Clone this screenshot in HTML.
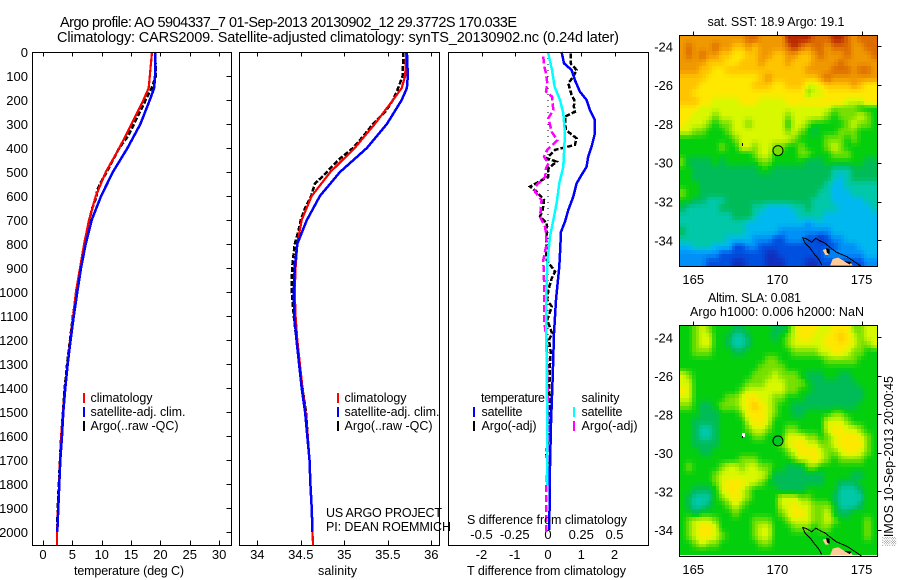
<!DOCTYPE html>
<html lang="en">
<head>
<meta charset="utf-8">
<title>Argo profile chart</title>
<style>
html,body{margin:0;padding:0;background:#fff;width:900px;height:580px;overflow:hidden}
svg{display:block}
text{font-family:"Liberation Sans",Arial,sans-serif;font-size:12.5px;fill:#000}
.tk{font-size:13px}
</style>
</head>
<body>
<svg id="chart" xmlns="http://www.w3.org/2000/svg" width="900" height="580" viewBox="0 0 900 580">
<rect x="0" y="0" width="900" height="580" fill="#fff"/>
<text x="60" y="27" style="font-size:14.5px" textLength="457" lengthAdjust="spacing">Argo profile: AO 5904337_7 01-Sep-2013 20130902_12 29.3772S 170.033E</text>
<text x="57" y="42" style="font-size:14.5px" textLength="562" lengthAdjust="spacing">Climatology: CARS2009. Satellite-adjusted climatology: synTS_20130902.nc (0.24d later)</text>
<g id="maps"></g>
<g id="profiles"></g>

<text x="74" y="575" textLength="110" lengthAdjust="spacing">temperature (deg C)</text>
<text x="318" y="575" textLength="39" lengthAdjust="spacing">salinity</text>
<text x="467" y="575" textLength="159" lengthAdjust="spacing">T difference from climatology</text>
<text x="467" y="524" textLength="160" lengthAdjust="spacing">S difference from climatology</text>

<g>
<rect x="83" y="393" width="2" height="10" fill="#f00"/>
<rect x="83" y="407" width="2" height="10" fill="#00f"/>
<rect x="83" y="421" width="2" height="10" fill="#000"/>
<text x="90.5" y="402" textLength="62" lengthAdjust="spacing">climatology</text>
<text x="90.5" y="416" textLength="95" lengthAdjust="spacing">satellite-adj. clim.</text>
<text x="90.5" y="430" textLength="88" lengthAdjust="spacing">Argo(..raw -QC)</text>
</g>
<g>
<rect x="337" y="393" width="2" height="10" fill="#f00"/>
<rect x="337" y="407" width="2" height="10" fill="#00f"/>
<rect x="337" y="421" width="2" height="10" fill="#000"/>
<text x="344.5" y="402" textLength="62" lengthAdjust="spacing">climatology</text>
<text x="344.5" y="416" textLength="95" lengthAdjust="spacing">satellite-adj. clim.</text>
<text x="344.5" y="430" textLength="88" lengthAdjust="spacing">Argo(..raw -QC)</text>
</g>
<text x="326" y="517" textLength="116" lengthAdjust="spacing">US ARGO PROJECT</text>
<text x="326" y="531" textLength="125" lengthAdjust="spacing">PI: DEAN ROEMMICH</text>
<g>
<text x="481" y="402" textLength="64" lengthAdjust="spacing">temperature</text>
<rect x="473" y="407" width="2" height="10" fill="#00f"/>
<rect x="473" y="421" width="2" height="10" fill="#000"/>
<text x="481.5" y="416" textLength="41" lengthAdjust="spacing">satellite</text>
<text x="481.5" y="430" textLength="55" lengthAdjust="spacing">Argo(-adj)</text>
<text x="581.5" y="402" textLength="38" lengthAdjust="spacing">salinity</text>
<rect x="573" y="407" width="2" height="10" fill="#0ff"/>
<rect x="573" y="421" width="2" height="10" fill="#f0f"/>
<text x="581.5" y="416" textLength="41" lengthAdjust="spacing">satellite</text>
<text x="581.5" y="430" textLength="56" lengthAdjust="spacing">Argo(-adj)</text>
</g>

<text x="707.5" y="26" textLength="137" lengthAdjust="spacing">sat. SST: 18.9 Argo: 19.1</text>
<text x="708" y="302" textLength="93" lengthAdjust="spacing">Altim. SLA: 0.081</text>
<text x="690" y="316" textLength="174" lengthAdjust="spacing">Argo h1000: 0.006 h2000: NaN</text>
<text transform="translate(893,546) rotate(-90)" x="0" y="0" textLength="170" lengthAdjust="spacing">░IMOS 10-Sep-2013 20:00:45</text>
</svg>

<script>
// ---------- profile data: depth (dbar) paired with each series ----------
const depthTicks = [0,100,200,300,400,500,600,700,800,900,1000,1100,1200,1300,1400,1500,1600,1700,1800,1900,2000];
const depthTickLabels = ["0","100","200","300","400","500","600","700","800","900","1000","1100","1200","1300","1400","1500","1600","1700","1800","1900","2000"];

const tempTicks = [0,5,10,15,20,25,30];
const tempTickLabels = ["0","5","10","15","20","25","30"];
const salTicks = [34,34.5,35,35.5,36];
const salTickLabels = ["34","34.5","35","35.5","36"];
const tDiffTicks = [-2,-1,0,1,2];
const tDiffTickLabels = ["-2","-1","0","1","2"];
const sDiffTicks = [-0.5,-0.25,0,0.25,0.5];
const sDiffTickLabels = ["-0.5","-0.25","0","0.25","0.5"];

const climTempDepth = [0,100,150,200,300,400,500,600,700,800,900,1000,1100,1200,1300,1400,1500,1600,1700,1800,1900,2000,2054];
const climTemp = [18.57,18.2,18.0,17.1,15.1,13.0,10.7,9.0,7.84,7.0,6.3,5.6,5.15,4.65,4.2,3.75,3.4,3.1,2.9,2.75,2.55,2.4,2.38];
const satTempDepth = [0,100,150,200,300,400,500,600,700,800,900,1000,1100,1200,1300,1400,1500,1600,1700,1800,1900,2000];
const satTemp = [19.08,19.08,18.95,18.2,16.6,14.4,11.9,9.9,8.3,7.27,6.47,5.85,5.25,4.7,4.2,3.8,3.46,3.24,2.95,2.78,2.6,2.44];
const argoTempDepth = [0,100,150,200,250,300,350,400,450,500,550,580,600,650,700,750,800,900,1000,1100,1200,1300,1400,1500,1600,1700,1800,1900,2000];
const argoTemp = [19.1,19.25,18.5,17.5,16.5,15.5,14.5,13.0,11.9,10.85,9.7,9.15,9.15,8.4,7.9,7.55,7.04,6.36,5.74,5.1,4.6,4.1,3.7,3.4,3.1,2.9,2.7,2.5,2.4];

const climSalDepth = [0,100,150,200,300,400,500,600,700,800,900,1000,1100,1200,1300,1400,1500,1600,1700,1800,1900,2000,2054];
const climSal = [35.71,35.70,35.66,35.56,35.35,35.12,34.84,34.625,34.51,34.46,34.44,34.43,34.44,34.46,34.49,34.52,34.555,34.58,34.6,34.61,34.625,34.635,34.64];
const satSalDepth = [0,100,150,200,300,400,500,600,700,800,900,1000,1100,1200,1300,1400,1500,1600,1700,1800,1900,2000];
const satSal = [35.72,35.73,35.72,35.66,35.49,35.26,34.95,34.72,34.57,34.46,34.43,34.42,34.425,34.45,34.48,34.51,34.55,34.575,34.6,34.61,34.625,34.635];
const argoSalDepth = [0,100,150,200,250,300,350,400,450,500,550,600,650,700,750,800,900,1000,1100,1200,1300,1400,1500,1600,1700,1800];
const argoSal = [35.68,35.67,35.62,35.56,35.47,35.33,35.22,35.10,34.93,34.80,34.66,34.62,34.55,34.50,34.47,34.43,34.40,34.395,34.42,34.45,34.485,34.52,34.56,34.58,34.6,34.61];

const satTDiffDepth = [0,47,75,117,165,200,242,283,339,394,436,478,512,547,603,658,707,749,839,894,964,1033,1172,1353,1547,1727,1991];
const satTDiff = [0.41,0.48,0.71,0.81,0.96,1.16,1.26,1.41,1.41,1.31,1.21,1.16,1.01,0.86,0.76,0.61,0.51,0.39,0.36,0.34,0.29,0.24,0.18,0.14,0.09,0.06,0.04];
const argoTDiffDepth = [6,47,75,103,131,179,200,228,249,269,297,325,360,387,408,443,457,485,519,561,582,617,658,686,714,756,811,867,915,943,992,1033,1061,1117,1172,1200,1250,1300,1350,1400,1450,1500,1550,1600,1672,1720];
const argoTDiff = [0.68,0.68,0.86,0.76,0.61,0.71,0.79,0.78,0.81,0.51,0.51,0.54,0.86,0.81,0.21,-0.04,0.26,0.01,0.01,-0.54,-0.34,-0.12,-0.16,-0.24,-0.04,-0.04,-0.06,-0.04,0.21,0.11,0.01,-0.02,0.11,-0.02,0.12,0.03,0.08,0.06,0.05,0.04,0.05,0.05,0.03,0.02,-0.05,0.0];
const satSDiffDepth = [0,75,144,200,256,339,422,478,547,631,700,769,867,950,1061,1117,1300,1600,1804];
const satSDiff = [0.00,0.03,0.05,0.09,0.115,0.128,0.12,0.115,0.085,0.065,0.04,0.015,-0.003,-0.01,-0.015,-0.015,-0.01,-0.005,-0.005];
const argoSDiffDepth = [19,54,89,131,165,186,242,276,332,367,408,436,464,485,519,554,582,617,658,686,728,756,798,867,950,1033,1117,1200,1350,1500,1650,1800,2000];
const argoSDiff = [-0.035,-0.03,-0.015,-0.005,-0.015,0.03,0.04,0.003,0.028,0.07,-0.005,-0.03,0.003,-0.015,-0.02,-0.085,-0.098,-0.048,-0.055,-0.06,-0.022,-0.015,-0.01,-0.035,-0.03,-0.03,-0.03,-0.01,-0.005,0,0.005,-0.012,-0.012];

// ---------- map tick values ----------
const lonTicks = [165,170,175];
const lonTickLabels = ["165","170","175"];
const latTicks = [-24,-26,-28,-30,-32,-34];
const latTickLabels = ["-24","-26","-28","-30","-32","-34"];
const argoLon = 170.033;
const argoLat = -29.377;
const islandLon = 167.96;
const islandLat = -29.05;

// ---------- heatmap values: colour-level per cell, north to south ----------
const sstLevels = [
[11,11,11,11,11,11,11,11,11,11,12,12,11,11,11,11,13,13,13,13,12,12,12,13,13,12,11,12,12,12],
[11,12,11,11,11,12,11,11,10,10,11,10,11,11,11,11,12,13,12,11,12,12,11,12,12,12,11,11,12,12],
[11,12,11,12,11,11,10,10,9,9,10,10,11,11,10,10,11,11,10,10,11,12,11,11,11,12,11,11,11,12],
[11,11,11,11,10,10,10,9,9,10,10,10,11,10,10,10,11,10,10,10,11,11,11,11,12,11,11,11,11,11],
[11,11,11,10,10,9,9,10,10,10,10,10,10,10,10,10,10,10,10,11,11,11,11,12,12,12,11,12,12,11],
[10,10,10,10,9,9,9,9,9,9,9,9,10,11,10,10,10,10,10,10,10,11,12,11,11,11,11,11,11,11],
[10,10,10,9,9,9,9,9,9,9,9,10,10,10,9,9,10,10,10,8,8,9,10,10,10,10,11,10,9,9],
[10,10,9,9,9,9,9,9,9,9,9,9,9,9,9,9,9,9,9,7,8,8,9,9,9,9,9,9,9,9],
[10,10,10,9,9,8,8,8,8,9,9,9,8,8,8,8,9,9,9,9,9,9,9,9,9,8,8,8,9,9],
[9,9,9,8,8,8,8,8,8,8,8,8,8,8,8,8,8,8,8,8,8,8,8,7,7,7,7,6,6,6],
[9,9,8,8,8,7,8,8,8,8,8,8,8,8,8,8,7,8,8,8,8,8,7,6,7,7,7,8,7,6],
[9,8,8,8,7,6,7,7,8,8,7,8,8,8,8,8,6,8,8,7,6,6,6,6,6,7,8,7,7,6],
[8,8,7,7,6,6,6,7,8,8,8,8,8,8,8,8,7,8,7,6,5,6,6,6,7,7,7,6,6,6],
[6,6,6,6,6,6,6,6,7,8,8,8,8,8,8,8,8,7,6,6,6,6,7,7,7,6,7,6,6,6],
[6,6,6,6,6,6,7,6,6,8,8,7,8,8,7,7,6,6,7,6,6,6,7,8,7,6,6,6,6,6],
[6,6,6,6,6,6,6,6,6,6,6,7,8,8,6,6,6,6,7,7,6,6,6,7,7,7,6,6,6,6],
[7,5,5,5,5,6,5,6,6,6,6,6,7,7,6,6,6,6,6,5,5,5,6,6,6,6,6,6,5,5],
[6,6,5,5,5,5,5,5,5,5,5,5,6,6,5,5,5,5,5,5,5,5,5,4,4,4,5,5,5,5],
[6,6,5,5,5,5,5,5,5,5,5,5,5,5,5,5,5,5,5,5,5,5,5,4,3,4,5,5,5,5],
[6,6,6,5,5,5,5,5,5,5,5,5,5,5,5,5,5,5,5,5,5,5,4,3,3,4,4,4,4,4],
[7,6,6,5,5,5,5,5,5,5,5,5,5,5,5,5,5,5,5,5,5,4,4,3,3,3,4,4,4,4],
[6,6,5,5,4,4,4,5,5,5,5,5,5,5,5,5,5,5,5,5,4,4,4,3,3,3,3,3,4,4],
[5,4,4,4,4,4,5,5,5,5,5,4,4,3,3,3,3,4,4,5,4,4,4,4,3,3,3,3,3,4],
[4,4,4,4,4,4,4,4,5,5,5,4,3,3,3,3,3,3,4,4,4,4,3,3,3,3,3,3,3,3],
[4,4,4,4,4,4,4,4,4,4,3,3,3,3,3,3,3,3,3,2,3,3,3,3,3,3,3,3,3,3],
[5,4,4,4,4,4,4,4,4,4,3,3,3,3,3,2,2,2,2,2,2,2,2,3,3,3,3,3,3,3],
[4,4,4,4,4,4,4,3,3,3,3,2,2,2,1,1,2,2,2,1,1,0,1,2,2,3,3,3,3,3],
[3,3,4,4,4,3,3,3,1,1,2,2,1,1,1,1,1,1,1,1,1,1,1,1,2,2,2,3,3,3],
[2,2,2,2,2,2,1,1,1,1,1,1,1,0,0,1,1,1,1,1,1,1,2,2,2,2,2,2,3,3],
[2,2,2,2,1,1,1,1,0,0,1,1,1,0,0,0,1,1,1,0,0,1,1,1,1,1,1,1,2,2]
];
const slaLevels = [
[6,6,7,8,7,6,6,6,5,5,6,6,6,6,5,5,6,8,9,9,9,8,8,9,9,9,7,7,8,8],
[6,6,7,8,8,6,6,5,4,4,5,6,6,6,5,6,7,8,9,9,8,8,9,9,10,9,8,7,8,8],
[6,6,7,8,8,6,6,5,4,4,5,6,6,6,6,6,7,8,8,8,8,8,9,9,9,9,8,7,7,8],
[6,6,7,7,7,6,6,6,5,5,6,6,6,6,6,6,6,7,7,7,7,8,8,9,9,8,7,7,6,6],
[6,6,6,6,6,6,6,6,6,6,6,6,6,7,7,6,6,6,6,6,6,6,7,7,7,7,7,6,6,6],
[6,6,6,6,6,6,6,6,6,6,6,6,7,7,7,7,6,6,6,6,6,6,6,6,6,6,6,6,6,6],
[8,7,6,6,6,6,6,6,6,6,6,7,7,7,8,7,7,7,6,5,5,5,6,6,5,5,6,6,6,6],
[8,8,6,6,6,6,6,6,6,6,7,7,7,8,8,8,7,7,7,6,5,5,5,5,5,5,5,6,6,6],
[9,8,6,6,6,6,6,6,6,7,8,8,8,8,8,8,7,7,6,6,5,5,5,5,5,5,5,5,6,6],
[8,8,6,6,6,6,6,7,7,8,9,9,8,8,7,7,6,6,6,5,5,5,5,5,5,5,5,5,6,6],
[7,7,6,5,5,6,7,7,7,8,9,10,9,8,7,6,6,5,5,5,5,5,5,5,5,5,5,6,6,6],
[6,6,6,5,5,5,6,6,6,7,9,9,9,8,7,6,6,5,5,6,6,6,6,7,7,6,6,6,6,6],
[6,6,5,5,5,5,6,6,6,6,8,9,9,8,6,6,6,6,6,6,6,6,8,8,8,7,6,6,6,6],
[6,6,5,4,4,5,6,6,6,6,7,8,8,7,6,6,7,7,6,6,6,6,8,9,9,8,8,7,6,6],
[6,6,5,4,4,5,6,6,6,6,6,7,7,6,6,6,8,8,8,7,7,6,7,8,9,9,9,8,7,6],
[6,6,5,5,5,5,6,6,6,6,6,6,6,6,6,7,8,9,9,8,8,7,7,8,9,9,9,9,7,6],
[6,6,6,5,5,6,6,6,6,6,6,6,6,6,6,6,7,8,9,9,9,8,7,7,8,9,9,8,7,6],
[6,6,6,6,6,6,6,6,6,7,7,7,6,6,6,6,6,7,8,8,9,8,7,6,7,7,7,7,6,6],
[6,7,6,6,6,6,7,8,8,7,8,8,7,7,6,6,5,5,5,7,7,6,6,6,6,6,6,6,6,6],
[6,6,6,6,6,7,8,8,8,8,8,8,8,7,5,5,5,5,5,5,5,5,6,6,6,6,5,5,6,6],
[6,6,6,6,6,7,8,9,9,9,8,8,7,6,5,5,5,5,5,5,5,5,6,6,5,5,5,6,6,6],
[6,6,5,5,5,6,8,9,9,8,7,6,6,6,6,5,5,5,5,6,6,6,6,6,4,4,4,5,6,6],
[6,5,4,4,4,6,7,8,9,8,7,6,6,6,6,8,8,8,7,7,6,6,6,5,4,4,4,4,6,6],
[6,5,4,4,5,6,6,7,8,7,6,6,6,6,6,8,8,9,8,8,7,7,7,6,4,4,4,5,6,6],
[6,6,5,6,6,6,6,6,7,6,6,6,6,6,6,7,8,9,9,8,7,7,8,6,5,5,6,6,6,6],
[6,7,8,8,8,7,6,6,6,6,6,7,7,7,6,6,7,8,8,8,7,7,8,7,6,6,6,6,7,6],
[6,7,8,9,9,8,6,6,6,6,6,7,8,8,6,6,6,7,7,7,6,7,7,6,6,6,6,6,7,6],
[6,7,8,9,9,8,7,6,6,6,6,7,8,8,6,6,6,6,6,6,6,6,6,6,6,6,6,6,7,6],
[6,6,7,8,7,7,6,6,6,6,6,6,7,7,6,6,6,6,6,6,6,6,6,6,6,6,6,6,6,6],
[6,6,6,6,6,6,6,6,6,6,6,6,6,6,6,6,6,6,6,6,6,6,6,6,6,6,6,6,6,6]
];
// Coast outlines and land, lon/lat pairs
const coastNorthLon = [171.50,171.74,172.04,172.28,172.53,172.83,173.13,173.52,174.12,174.51,175.01];
const coastNorthLat = [-33.86,-33.93,-34.10,-33.90,-34.03,-34.15,-34.37,-34.62,-34.84,-35.06,-35.36];
const coastSouthLon = [171.50,171.64,171.94,172.24,172.44,172.63];
const coastSouthLat = [-33.86,-34.15,-34.41,-34.76,-34.96,-35.27];
const landMainLon = [173.13,173.29,173.62,174.02,174.32,174.48];
const landMainLat = [-35.30,-34.96,-34.89,-35.10,-35.13,-35.30];
const landSmallLon = [172.69,172.89,173.05,172.85];
const landSmallLat = [-34.50,-34.45,-34.76,-34.76];
const shoalALon = [172.89,173.10,173.10,172.95];
const shoalALat = [-34.40,-34.45,-34.72,-34.65];
const shoalBLon = [173.95,174.40,174.30];
const shoalBLat = [-35.08,-35.12,-35.25];

const levelColors = ["#1030c0","#0050e0","#0090f8","#00b8f0","#00c8a8","#00bc58","#04cf0c","#78e000","#d8f800","#ffe800","#ffc400","#f09800","#dc6c00","#b82800"];
const argoFillSst = 7;
const argoFillSla = 5.7;
const upsample = 2;

// ---------- axis functions ----------
const depthY = d => 52 + d * 0.24;
const tempX = t => 43 + t * 5.87;
const salX = s => 257.3 + (s - 34) * 87;
const tDiffX = t => 548 + t * 33.25;
const sDiffX = s => 548 + s * 133;
const mapLonX = lon => 777.4 + (lon - 170) * 16.83;
const sstLatY = lat => 46.3 + (-24 - lat) * 19.4;
const slaLatY = lat => 337.3 + (-24 - lat) * 19.27;

const NS = "http://www.w3.org/2000/svg";
const profilesLayer = document.getElementById("profiles");
const mapsLayer = document.getElementById("maps");

function hexRgb(hex) {
  return [parseInt(hex.slice(1,3),16), parseInt(hex.slice(3,5),16), parseInt(hex.slice(5,7),16)];
}
function levelColor(v) {
  const top = levelColors.length - 1;
  const t = Math.max(0, Math.min(top, v));
  const i = Math.min(top - 1, Math.floor(t));
  const f = t - i;
  const a = hexRgb(levelColors[i]), b = hexRgb(levelColors[i + 1]);
  return "rgb(" + a.map((c, k) => Math.round(c + (b[k] - c) * f)).join(",") + ")";
}
// bilinear lookup between cell centres, in row/column units
function sampleLevel(levels, r, c) {
  const rr = Math.max(0, Math.min(levels.length - 1, r));
  const cc = Math.max(0, Math.min(levels[0].length - 1, c));
  const r0 = Math.floor(rr), c0 = Math.floor(cc);
  const r1 = Math.min(levels.length - 1, r0 + 1), c1 = Math.min(levels[0].length - 1, c0 + 1);
  const fr = rr - r0, fc = cc - c0;
  return (levels[r0][c0] * (1 - fc) + levels[r0][c1] * fc) * (1 - fr) + (levels[r1][c0] * (1 - fc) + levels[r1][c1] * fc) * fr;
}

function make(tag, parent, props) {
  const node = document.createElementNS(NS, tag);
  for (const k in props) node.setAttribute(k, props[k]);
  parent.appendChild(node);
  return node;
}

function addFrame(parent, x0, y0, x1, y1, name) {
  const frame = make("rect", parent, {x: x0, y: y0, width: x1 - x0, height: y1 - y0, fill: "none", stroke: "#000", "stroke-width": 1, "shape-rendering": "crispEdges"});
  
  
}

function addTick(parent, x1, y1, x2, y2) {
  const tick = make("line", parent, {x1, y1, x2, y2, stroke: "#000", "stroke-width": 1, "shape-rendering": "crispEdges"});
  
  
}

function addLabel(parent, x, y, str, anchor, name) {
  const label = make("text", parent, {x, y, "text-anchor": anchor, class: "tk"});
  label.textContent = str;
  
  
}

function addSeries(parent, xs, depths, xFn, color, width, dash, name) {
  const pts = xs.map((v, i) => xFn(v).toFixed(1) + "," + depthY(depths[i]).toFixed(1)).join(" ");
  const line = make("polyline", parent, {points: pts, fill: "none", stroke: color, "stroke-width": width, "shape-rendering": "crispEdges"});
  if (dash) line.setAttribute("stroke-dasharray", dash);
  
  
}

// ---------- profile panels ----------
const panelTop = 52.5, panelBottom = 545.5;

// temperature panel
tempTicks.forEach((t, i) => {
  const x = Math.round(tempX(t)) + 0.5;
  addTick(profilesLayer, x, panelTop, x, panelTop + 4);
  addTick(profilesLayer, x, panelBottom - 5, x, panelBottom);
  addLabel(profilesLayer, tempX(t), 559, tempTickLabels[i], "middle", "temperature-tick-label");
});
depthTicks.forEach((d, i) => {
  const y = Math.round(depthY(d)) + 0.5;
  addTick(profilesLayer, 226.5, y, 231.5, y);
  addLabel(profilesLayer, 28, depthY(d) + 5, depthTickLabels[i], "end", "depth-tick-label");
});
addSeries(profilesLayer, argoTemp, argoTempDepth, tempX, "#000", 2.5, "5 2", "argo-temperature-line");
addSeries(profilesLayer, climTemp, climTempDepth, tempX, "#f00", 2.2, null, "climatology-temperature-line");
addSeries(profilesLayer, satTemp, satTempDepth, tempX, "#00f", 2.5, null, "satellite-temperature-line");
addFrame(profilesLayer, 32.5, panelTop, 231.5, panelBottom, "temperature-panel-frame");

// salinity panel
salTicks.forEach((s, i) => {
  const x = Math.round(salX(s)) + 0.5;
  addTick(profilesLayer, x, panelTop, x, panelTop + 4);
  addTick(profilesLayer, x, panelBottom - 5, x, panelBottom);
  addLabel(profilesLayer, salX(s), 559, salTickLabels[i], "middle", "salinity-tick-label");
});
addSeries(profilesLayer, argoSal, argoSalDepth, salX, "#000", 2.5, "5 2", "argo-salinity-line");
addSeries(profilesLayer, climSal, climSalDepth, salX, "#f00", 2.2, null, "climatology-salinity-line");
addSeries(profilesLayer, satSal, satSalDepth, salX, "#00f", 2.5, null, "satellite-salinity-line");
addFrame(profilesLayer, 239.5, panelTop, 439.5, panelBottom, "salinity-panel-frame");

// difference panel
tDiffTicks.forEach((t, i) => {
  const x = Math.round(tDiffX(t)) + 0.5;
  addTick(profilesLayer, x, panelTop, x, panelTop + 4);
  addLabel(profilesLayer, tDiffX(t), 559, tDiffTickLabels[i], "middle", "t-difference-tick-label");
});
sDiffTicks.forEach((s, i) => {
  addLabel(profilesLayer, sDiffX(s), 539, sDiffTickLabels[i], "middle", "s-difference-tick-label");
});
const zeroLine = make("line", profilesLayer, {x1: tDiffX(0), y1: depthY(0), x2: tDiffX(0), y2: depthY(1700), stroke: "#000", "stroke-width": 1, "stroke-dasharray": "1 5", "shape-rendering": "crispEdges"});


addSeries(profilesLayer, argoTDiff, argoTDiffDepth, tDiffX, "#000", 2.5, "5 2", "argo-t-difference-line");
addSeries(profilesLayer, argoSDiff, argoSDiffDepth, sDiffX, "#f0f", 2.5, "7 3", "argo-s-difference-line");
addSeries(profilesLayer, satTDiff, satTDiffDepth, tDiffX, "#00f", 2.5, null, "satellite-t-difference-line");
addSeries(profilesLayer, satSDiff, satSDiffDepth, sDiffX, "#0ff", 2.5, null, "satellite-s-difference-line");
addFrame(profilesLayer, 448.5, panelTop, 648.5, panelBottom, "difference-panel-frame");

// ---------- maps ----------
function polyPoints(lons, lats, latY) {
  return lons.map((v, i) => mapLonX(v).toFixed(1) + "," + latY(lats[i]).toFixed(1)).join(" ");
}
function drawMap(levels, latY, frameTop, frameBottom, argoLevel, name) {
  const group = make("g", mapsLayer, {});
  
  
  const lonW = 164.17, lonE = 175.93;
  const latN = -24 + (latY(-24) - frameTop) / (latY(-25) - latY(-24));
  const latS = -35.3;
  const rows = levels.length * upsample, cols = levels[0].length * upsample;
  const dLon = (lonE - lonW) / cols, dLat = (latN - latS) / rows;
  for (let r = 0; r < rows; r++) {
    for (let c = 0; c < cols; c++) {
      const v = sampleLevel(levels, (r + 0.5) / upsample - 0.5, (c + 0.5) / upsample - 0.5);
      const x0 = Math.round(mapLonX(lonW + c * dLon));
      const x1 = Math.round(mapLonX(lonW + (c + 1) * dLon));
      const y0 = Math.round(latY(latN - r * dLat));
      const y1 = Math.round(latY(latN - (r + 1) * dLat));
      const cell = make("rect", group, {x: x0, y: y0, width: x1 - x0, height: y1 - y0, fill: levelColor(v), "shape-rendering": "crispEdges"});
      
      
    }
  }
  // land
  const landMain = make("polygon", group, {points: polyPoints(landMainLon, landMainLat, latY), fill: "#ffcc99"});
  
  
  const landSmall = make("polygon", group, {points: polyPoints(landSmallLon, landSmallLat, latY), fill: "#ffcc99"});
  
  
  const shoalA = make("polygon", group, {points: polyPoints(shoalALon, shoalALat, latY), fill: "#000"});
  
  
  const shoalB = make("polygon", group, {points: polyPoints(shoalBLon, shoalBLat, latY), fill: "#000"});
  
  
  // coast
  const coastA = make("polyline", group, {points: polyPoints(coastNorthLon, coastNorthLat, latY), fill: "none", stroke: "#000", "stroke-width": 1, "shape-rendering": "crispEdges"});
  
  
  const coastB = make("polyline", group, {points: polyPoints(coastSouthLon, coastSouthLat, latY), fill: "none", stroke: "#000", "stroke-width": 1, "shape-rendering": "crispEdges"});
  
  
  // argo location
  const marker = make("circle", group, {cx: mapLonX(argoLon), cy: latY(argoLat), r: 5, fill: levelColor(argoLevel), stroke: "#000", "stroke-width": 1});
  
  
  // frame and ticks
  const fx0 = 679.5, fx1 = 877.5;
  addFrame(group, fx0, frameTop, fx1, frameBottom, name + "-frame");
  lonTicks.forEach((lon, i) => {
    const x = Math.round(mapLonX(lon)) + 0.5;
    addTick(group, x, frameTop - 4, x, frameTop);
    addLabel(group, mapLonX(lon), frameBottom + 17.5, lonTickLabels[i], "middle", "longitude-tick-label");
  });
  latTicks.forEach((lat, i) => {
    const y = Math.round(latY(lat)) + 0.5;
    addTick(group, fx1, y, fx1 + 4, y);
    addLabel(group, 673, latY(lat) + 5, latTickLabels[i], "end", "latitude-tick-label");
  });
}
drawMap(sstLevels, sstLatY, 35.5, 266.5, argoFillSst, "sst-map");
drawMap(slaLevels, slaLatY, 325.5, 556.5, argoFillSla, "sla-map");

const islandGap = make("rect", mapsLayer, {x: Math.round(mapLonX(islandLon)) - 1, y: Math.round(slaLatY(islandLat)) - 2, width: 3, height: 4, fill: "#fff", "shape-rendering": "crispEdges"});


const islandDotSla = make("rect", mapsLayer, {x: Math.round(mapLonX(islandLon)) - 1, y: Math.round(slaLatY(islandLat)) + 1, width: 1, height: 2, fill: "#000", "shape-rendering": "crispEdges"});


const islandDotSst = make("rect", mapsLayer, {x: Math.round(mapLonX(islandLon)) - 1, y: Math.round(sstLatY(islandLat)) - 1, width: 1, height: 3, fill: "#000", "shape-rendering": "crispEdges"});


</script>
</body>
</html>
